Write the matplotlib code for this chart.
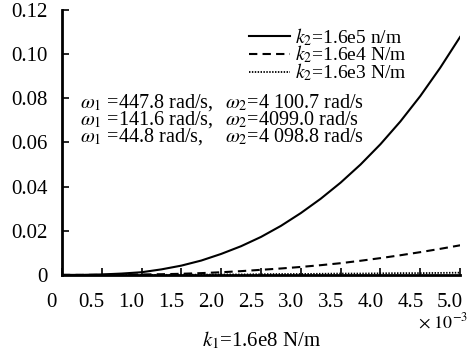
import numpy as np
import matplotlib
matplotlib.use("Agg")
import matplotlib.pyplot as plt
import matplotlib.transforms as mtransforms

plt.rcParams['font.family'] = ['Liberation Serif', 'DejaVu Serif']
plt.rcParams['mathtext.fontset'] = 'stix'

# k1 axis values (x 10^-3)
x = [0.0, 0.25, 0.5, 0.75, 1.0, 1.25, 1.5, 1.75, 2.0, 2.25, 2.5,
     2.75, 3.0, 3.25, 3.5, 3.75, 4.0, 4.25, 4.5, 4.75, 5.0]
# k2 = 1.6e5
y_k2_16e5 = [0.0, 0.0, 0.0002, 0.0006, 0.0012, 0.0025, 0.0042, 0.0065, 0.0095, 0.0130,
             0.0172, 0.0222, 0.0280, 0.0345, 0.0418, 0.0500, 0.0592, 0.0695, 0.0810, 0.0938, 0.1078]
# k2 = 1.6e4
y_k2_16e4 = [0.0, 0.0, 0.0, 0.0001, 0.0002, 0.0003, 0.0005, 0.0008, 0.0012, 0.0017,
             0.0023, 0.0029, 0.0036, 0.0044, 0.0053, 0.0064, 0.0076, 0.0089, 0.0103, 0.0118, 0.0134]
# k2 = 1.6e3
y_k2_16e3 = [0.0, 0.0, 0.0, 0.0, 0.0, 0.0, 0.0001, 0.0001, 0.0002, 0.0002,
             0.0003, 0.0004, 0.0004, 0.0005, 0.0006, 0.0006, 0.0007, 0.0008, 0.0008, 0.0009, 0.0010]

labels = ["$k_2$=1.6e5 n/m", "$k_2$=1.6e4 N/m", "$k_2$=1.6e3 N/m"]
xticks = [0, 0.5, 1.0, 1.5, 2.0, 2.5, 3.0, 3.5, 4.0, 4.5, 5.0]
xtick_labels = ["0", "0.5", "1.0", "1.5", "2.0", "2.5", "3.0", "3.5", "4.0", "4.5", "5.0"]
yticks = [0, 0.02, 0.04, 0.06, 0.08, 0.10, 0.12]
ytick_labels = ["0", "0.02", "0.04", "0.06", "0.08", "0.10", "0.12"]

omega1_lines = [r"$\omega_1$ =447.8 rad/s,", r"$\omega_1$ =141.6 rad/s,", r"$\omega_1$ =44.8 rad/s,"]
omega2_lines = [r"$\omega_2$=4 100.7 rad/s", r"$\omega_2$=4099.0 rad/s", r"$\omega_2$=4 098.8 rad/s"]

fig = plt.figure(figsize=(4.69, 3.57), dpi=100)
ax = fig.add_axes([0.132, 0.23, 0.849, 0.742])

ax.plot(x, y_k2_16e5, color='black', lw=1.5, ls='-', label=labels[0])
ax.plot(x, y_k2_16e4, color='black', lw=1.5, ls=(0, (4, 2.5)), label=labels[1])
ax.plot(x, y_k2_16e3, color='black', lw=1.3, ls=(0, (0.8, 0.8)), label=labels[2])

ax.set_xlim(0, 5.0)
ax.set_ylim(0, 0.12)
ax.set_xticks(xticks)
ax.set_xticklabels(xtick_labels)
ax.set_yticks(yticks)
ax.set_yticklabels(ytick_labels)
ax.tick_params(direction='in', length=5, width=1.2, labelsize=15)
ax.tick_params(axis='x', pad=13)
ax.tick_params(axis='y', pad=10)
for s in ['top', 'right']:
    ax.spines[s].set_visible(False)
for s in ['left', 'bottom']:
    ax.spines[s].set_linewidth(2)

# x tick labels sit a little to the left of their ticks
shift = mtransforms.ScaledTranslation(-10 / 100, 0, fig.dpi_scale_trans)
for lab in ax.get_xticklabels():
    lab.set_transform(lab.get_transform() + shift)

ax.legend(loc='upper right', bbox_to_anchor=(0.865, 0.94), frameon=False, fontsize=14,
          handlelength=2.1, handletextpad=0.25, labelspacing=-0.2, borderpad=0,
          borderaxespad=0)

ax.text(0.23, 0.0702, "\n".join(omega1_lines), fontsize=14.5, va='center', ha='left',
        linespacing=0.75)
ax.text(2.05, 0.0702, "\n".join(omega2_lines), fontsize=14.5, va='center', ha='left',
        linespacing=0.75)

fig.text(0.998, 0.098, r"$\times\ 10^{-3}$", fontsize=13, ha='right', va='center')
fig.text(0.557, 0.045, "$k_1$=1.6e8 N/m", fontsize=15, ha='center', va='center')

fig.savefig("out.png", dpi=100)
